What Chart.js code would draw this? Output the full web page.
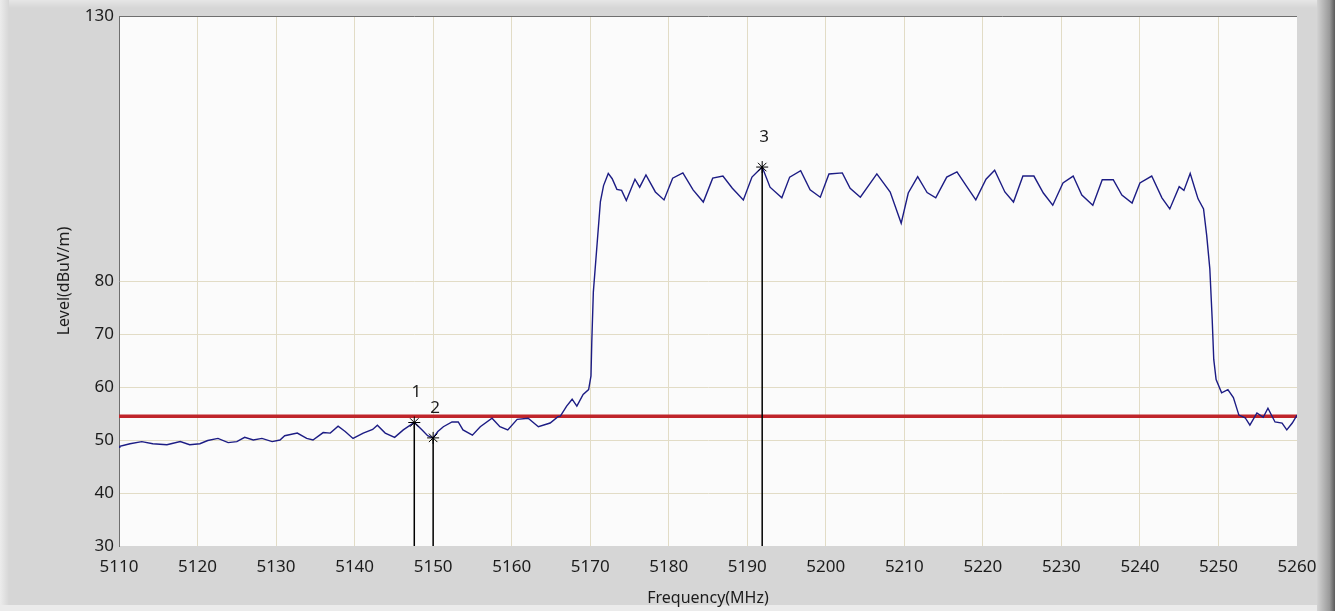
<!DOCTYPE html>
<html>
<head>
<meta charset="utf-8">
<script src="https://cdn.jsdelivr.net/npm/chart.js@4.4.1/dist/chart.umd.min.js"></script>
<style>
  html, body { margin: 0; padding: 0; background: #d6d6d6; overflow: hidden; }
  #wrap { position: relative; width: 1335px; height: 611px; }
</style>
</head>
<body>
<div id="wrap"><canvas id="spectrum" width="1335" height="611"></canvas></div>
<script>
// Sweep trace: frequency (MHz) and measured level (dBuV/m)
const freqMHz = [
  5110.0, 5110.1, 5111.4, 5112.9, 5114.3, 5116.1, 5117.8, 5119.0, 5120.3, 5121.3,
  5122.6, 5123.9, 5125.0, 5126.0, 5127.1, 5128.2, 5129.5, 5130.5, 5131.1, 5132.7,
  5133.9, 5134.7, 5136.0, 5136.9, 5137.9, 5138.8, 5139.8, 5141.1, 5142.3, 5142.9,
  5143.9, 5145.1, 5146.2, 5147.6, 5148.6, 5149.3, 5150.0, 5150.6, 5151.3, 5152.4,
  5153.2, 5153.8, 5155.0, 5156.0, 5157.5, 5158.5, 5159.5, 5160.7, 5162.1, 5163.4,
  5164.9, 5165.9, 5166.2, 5167.0, 5167.7, 5168.3, 5169.1, 5169.8, 5170.1, 5170.2,
  5170.4, 5170.9, 5171.3, 5171.7, 5172.3, 5172.8, 5173.4, 5174.0, 5174.6, 5175.7,
  5176.3, 5177.1, 5178.3, 5179.4, 5180.5, 5181.8, 5183.1, 5184.4, 5185.6, 5186.9,
  5188.1, 5189.5, 5190.6, 5191.9, 5192.9, 5194.4, 5195.4, 5196.8, 5198.0, 5199.3,
  5200.4, 5202.1, 5203.1, 5204.4, 5206.5, 5208.2, 5209.6, 5210.5, 5211.7, 5212.9,
  5214.0, 5215.4, 5216.7, 5218.0, 5219.1, 5220.4, 5221.5, 5222.8, 5223.9, 5225.1,
  5226.5, 5227.7, 5228.9, 5230.2, 5231.5, 5232.6, 5234.0, 5235.2, 5236.6, 5237.7,
  5239.0, 5240.0, 5241.5, 5242.8, 5243.8, 5245.0, 5245.6, 5246.4, 5247.0, 5247.4,
  5248.1, 5248.5, 5248.9, 5249.2, 5249.4, 5249.7, 5250.4, 5251.2, 5251.9, 5252.6,
  5253.4, 5254.0, 5254.9, 5255.7, 5256.3, 5257.2, 5258.1, 5258.7, 5259.4, 5260.0
];
const levelDb = [
  48.6, 48.8, 49.3, 49.7, 49.3, 49.1, 49.7, 49.1, 49.3, 49.9,
  50.3, 49.5, 49.7, 50.5, 50.0, 50.3, 49.7, 50.0, 50.8, 51.3,
  50.3, 50.0, 51.4, 51.3, 52.6, 51.6, 50.3, 51.3, 52.0, 52.8,
  51.3, 50.5, 51.9, 53.3, 51.9, 50.8, 50.4, 51.6, 52.5, 53.4,
  53.4, 51.9, 50.9, 52.5, 54.1, 52.5, 51.9, 53.9, 54.1, 52.5,
  53.2, 54.4, 54.5, 56.4, 57.7, 56.4, 58.6, 59.5, 62.1, 68.4,
  77.9, 87.4, 95.0, 98.0, 100.3, 99.3, 97.3, 97.1, 95.2, 99.2,
  97.7, 100.0, 96.8, 95.3, 99.4, 100.4, 97.2, 94.9, 99.4, 99.8,
  97.5, 95.3, 99.6, 101.5, 97.7, 95.7, 99.6, 100.8, 97.2, 95.8,
  100.2, 100.4, 97.5, 95.8, 100.2, 96.8, 90.9, 96.6, 99.7, 96.7,
  95.7, 99.6, 100.6, 97.7, 95.3, 99.2, 100.9, 96.8, 94.9, 99.8,
  99.8, 96.6, 94.3, 98.5, 99.8, 96.2, 94.3, 99.1, 99.1, 96.2,
  94.7, 98.5, 99.8, 95.7, 93.6, 97.8, 97.1, 100.3, 97.4, 95.5,
  93.6, 88.6, 82.3, 72.8, 65.2, 61.4, 58.9, 59.5, 58.0, 54.7,
  54.2, 52.8, 55.1, 54.3, 56.0, 53.4, 53.2, 51.9, 53.2, 54.7
];

// Limit line
const limitLevel = 54.5;

// Markers
const markerNames = ['1', '2', '3'];
const markerFreqs = [5147.6, 5150.0, 5191.9];
const markerLevels = [53.3, 50.4, 101.5];

// Axis ticks
const xTicks = [5110, 5120, 5130, 5140, 5150, 5160, 5170, 5180, 5190, 5200, 5210, 5220, 5230, 5240, 5250, 5260];
const yTicks = [30, 40, 50, 60, 70, 80, 130];

const X_MIN = 5110, X_MAX = 5260, Y_MIN = 30, Y_MAX = 130;
const GRID = '#e2dcc6';
const FRAME = '#6f6f6f';
const TEXT = '#1c1c1c';
const FONT = '"Noto Sans", "Open Sans", sans-serif';

const traceData = freqMHz.map((f, i) => ({ x: f, y: levelDb[i] }));

const markerSets = markerNames.map((name, i) => ({
  type: 'line',
  label: 'Marker ' + name,
  data: [{ x: markerFreqs[i], y: markerLevels[i] }, { x: markerFreqs[i], y: Y_MIN }],
  borderColor: '#000000',
  borderWidth: 1.5,
  pointStyle: 'star',
  pointRadius: [6, 0],
  pointBorderColor: '#000000',
  pointBorderWidth: 1,
  pointBackgroundColor: '#000000',
  order: 0,
  markerName: name
}));

// Panel frame, plot background and marker captions
const panelPlugin = {
  id: 'panel',
  beforeDraw(chart) {
    const { ctx, width, height, chartArea: a } = chart;
    ctx.save();
    ctx.fillStyle = '#d6d6d6';
    ctx.fillRect(0, 0, width, height);
    let g = ctx.createLinearGradient(0, 0, 9, 0);
    g.addColorStop(0, '#ececec');
    g.addColorStop(1, '#d6d6d6');
    ctx.fillStyle = g;
    ctx.fillRect(0, 0, 9, height);
    g = ctx.createLinearGradient(0, 0, 0, 8);
    g.addColorStop(0, '#e6e6e6');
    g.addColorStop(1, '#d6d6d6');
    ctx.fillStyle = g;
    ctx.fillRect(9, 0, width - 9, 8);
    g = ctx.createLinearGradient(width - 18, 0, width, 0);
    g.addColorStop(0, '#d3d3d3');
    g.addColorStop(0.7, '#9a9a9a');
    g.addColorStop(1, '#5a5a5a');
    ctx.fillStyle = g;
    ctx.fillRect(width - 18, 0, 18, height);
    ctx.fillStyle = '#ebebeb';
    ctx.fillRect(0, height - 6, width - 18, 6);
    ctx.fillStyle = '#fbfbfb';
    ctx.fillRect(a.left, a.top, a.right - a.left, a.bottom - a.top);
    ctx.restore();
  },
  afterDatasetsDraw(chart) {
    const { ctx } = chart;
    ctx.save();
    ctx.fillStyle = TEXT;
    ctx.font = '17px ' + FONT;
    ctx.textAlign = 'center';
    ctx.textBaseline = 'middle';
    chart.data.datasets.forEach((ds, i) => {
      if (!ds.markerName) return;
      const pt = chart.getDatasetMeta(i).data[0];
      ctx.fillText(ds.markerName, pt.x + 2, pt.y - 30);
    });
    ctx.restore();
  }
};

new Chart(document.getElementById('spectrum'), {
  type: 'line',
  data: {
    datasets: [
      ...markerSets,
      {
        label: 'Level',
        data: traceData,
        borderColor: '#1c1c84',
        borderWidth: 1.4,
        pointRadius: 0,
        tension: 0,
        order: 1
      },
      {
        label: 'Limit',
        data: [{ x: X_MIN, y: limitLevel }, { x: X_MAX, y: limitLevel }],
        borderColor: '#c0252b',
        borderWidth: 3.5,
        pointRadius: 0,
        order: 2
      }
    ]
  },
  options: {
    responsive: false,
    animation: false,
    devicePixelRatio: 1,
    layout: { padding: { left: 0, top: 16, right: 38, bottom: 0 } },
    plugins: { legend: { display: false }, tooltip: { enabled: false } },
    scales: {
      x: {
        type: 'linear',
        min: X_MIN,
        max: X_MAX,
        afterBuildTicks: s => { s.ticks = xTicks.map(v => ({ value: v })); },
        afterFit: s => { s.height = 65; },
        ticks: {
          autoSkip: false, maxRotation: 0, padding: 11, color: TEXT,
          font: { family: FONT, size: 17 },
          callback: v => String(v)
        },
        grid: {
          drawTicks: false,
          color: c => (c.tick && (c.tick.value === X_MIN || c.tick.value === X_MAX)) ? 'rgba(0,0,0,0)' : GRID
        },
        border: { display: false },
        title: {
          display: true,
          text: 'Frequency(MHz)',
          color: TEXT,
          font: { family: FONT, size: 16 },
          padding: { top: 0, bottom: 3 }
        }
      },
      y: {
        type: 'linear',
        min: Y_MIN,
        max: Y_MAX,
        afterBuildTicks: s => { s.ticks = yTicks.map(v => ({ value: v })); },
        afterFit: s => { s.width = 119; },
        ticks: {
          padding: 5, color: TEXT,
          font: { family: FONT, size: 17 },
          callback: v => String(v)
        },
        grid: {
          drawTicks: false,
          color: c => {
            if (!c.tick) return GRID;
            if (c.tick.value === Y_MAX) return FRAME;
            if (c.tick.value === Y_MIN) return 'rgba(0,0,0,0)';
            return GRID;
          }
        },
        border: { display: true, color: FRAME, width: 1 },
        title: {
          display: true,
          text: 'Level(dBuV/m)',
          color: TEXT,
          font: { family: FONT, size: 16 },
          padding: { top: 55, bottom: 0 }
        }
      }
    }
  },
  plugins: [panelPlugin]
});
</script>
</body>
</html>
